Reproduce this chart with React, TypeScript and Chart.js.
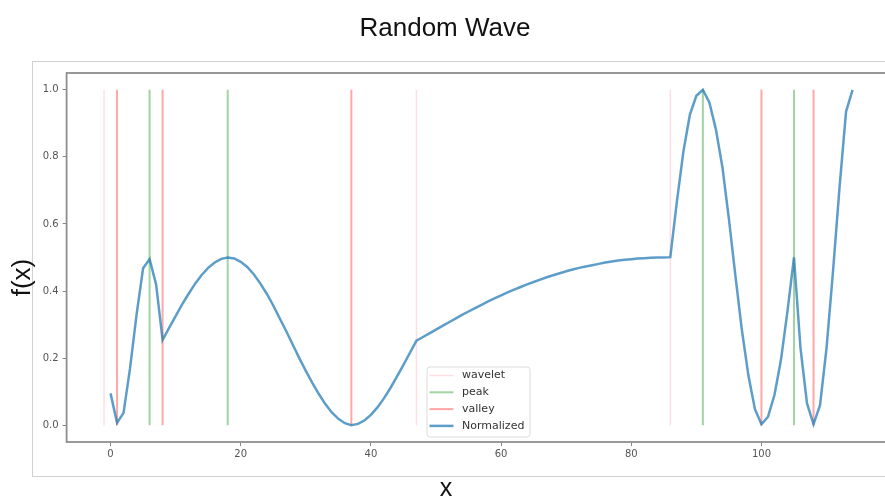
import { useEffect, useRef } from "react";
import { Chart, registerables } from "chart.js";

Chart.register(...registerables);

const TITLE = "Random Wave";
const X_LABEL = "x";
const Y_LABEL = "f(x)";

// Normalized signal, one value per integer x from 0 to 114
const normalized = [
  0.095, 0.007, 0.037, 0.17, 0.33, 0.468, 0.495, 0.42, 0.254, 0.29,
  0.325, 0.36, 0.392, 0.422, 0.448, 0.469, 0.485, 0.496, 0.5, 0.497,
  0.487, 0.472, 0.45, 0.423, 0.392, 0.357, 0.318, 0.28, 0.24, 0.2,
  0.162, 0.126, 0.093, 0.063, 0.038, 0.019, 0.006, 0.0, 0.004, 0.014,
  0.031, 0.053, 0.08, 0.111, 0.145, 0.18, 0.216, 0.252, 0.263, 0.274,
  0.285, 0.296, 0.307, 0.318, 0.329, 0.339, 0.349, 0.359, 0.369, 0.378,
  0.387, 0.396, 0.404, 0.412, 0.42, 0.427, 0.434, 0.441, 0.447, 0.453,
  0.459, 0.464, 0.469, 0.473, 0.477, 0.481, 0.485, 0.488, 0.491, 0.493,
  0.495, 0.497, 0.498, 0.499, 0.5, 0.5, 0.501, 0.665, 0.815, 0.925,
  0.982, 1.0, 0.962, 0.882, 0.77, 0.615, 0.445, 0.283, 0.148, 0.048,
  0.003, 0.025, 0.09, 0.195, 0.34, 0.5, 0.23, 0.065, 0.003, 0.06,
  0.23, 0.46, 0.71, 0.935, 1.0,
];
const xPositions = normalized.map((_, i) => i);

const waveletX = [-1, 47, 86];
const peakX = [6, 18, 91, 105];
const valleyX = [1, 8, 37, 100, 108];
const markerSpan = [0, 1];

const xTicks = [0, 20, 40, 60, 80, 100];
const yTicks = [0, 0.2, 0.4, 0.6, 0.8, 1.0];
const xRange = [-6.75, 119.75];
const yRange = [-0.05, 1.05];

const legendLabels = ["wavelet", "peak", "valley", "Normalized"];

function verticalLines(xs: number[]) {
  const pts: { x: number; y: number | null }[] = [];
  xs.forEach((x) => {
    pts.push({ x, y: markerSpan[0] }, { x, y: markerSpan[1] }, { x, y: null });
  });
  return pts;
}

const decorPlugin = {
  id: "decor",
  beforeDraw(chart: any) {
    const ctx = chart.ctx;
    ctx.save();
    ctx.fillStyle = "#ffffff";
    ctx.fillRect(0, 0, chart.width, chart.height);
    ctx.strokeStyle = "#d0d0d0";
    ctx.lineWidth = 1;
    ctx.strokeRect(32.5, 61.5, chart.width, 415);
    ctx.restore();
  },
  afterDatasetsDraw(chart: any) {
    const ctx = chart.ctx;
    const a = chart.chartArea;
    ctx.save();
    ctx.strokeStyle = "#8e8e8e";
    ctx.lineWidth = 1.8;
    ctx.strokeRect(a.left, a.top, a.right - a.left, a.bottom - a.top);
    ctx.restore();
  },
  afterDraw(chart: any) {
    const ctx = chart.ctx;
    ctx.save();
    // axis labels
    ctx.fillStyle = "#111";
    ctx.font = '25px "Liberation Sans", Arial, sans-serif';
    ctx.textAlign = "center";
    ctx.textBaseline = "alphabetic";
    ctx.fillText(X_LABEL, 446, 496);
    ctx.save();
    ctx.translate(30, 277.5);
    ctx.rotate(-Math.PI / 2);
    ctx.font = '26px "Liberation Sans", Arial, sans-serif';
    ctx.fillText(Y_LABEL, 0, 0);
    ctx.restore();

    // legend
    const bx = 427, by = 367, bw = 103, bh = 70, r = 3;
    ctx.beginPath();
    ctx.moveTo(bx + r, by);
    ctx.lineTo(bx + bw - r, by);
    ctx.quadraticCurveTo(bx + bw, by, bx + bw, by + r);
    ctx.lineTo(bx + bw, by + bh - r);
    ctx.quadraticCurveTo(bx + bw, by + bh, bx + bw - r, by + bh);
    ctx.lineTo(bx + r, by + bh);
    ctx.quadraticCurveTo(bx, by + bh, bx, by + bh - r);
    ctx.lineTo(bx, by + r);
    ctx.quadraticCurveTo(bx, by, bx + r, by);
    ctx.closePath();
    ctx.fillStyle = "rgba(255,255,255,0.85)";
    ctx.fill();
    ctx.strokeStyle = "#dcdcdc";
    ctx.lineWidth = 1;
    ctx.stroke();

    ctx.font = '11px "DejaVu Sans", sans-serif';
    ctx.textAlign = "left";
    ctx.textBaseline = "middle";
    chart.data.datasets.forEach((ds: any, i: number) => {
      const y = 375.5 + i * 16.8;
      ctx.beginPath();
      ctx.strokeStyle = ds.borderColor;
      ctx.lineWidth = ds.borderWidth;
      ctx.moveTo(429.5, y);
      ctx.lineTo(453.5, y);
      ctx.stroke();
      ctx.fillStyle = "#333";
      ctx.fillText(legendLabels[i], 462, y);
    });
    ctx.restore();
  },
};

export default function App() {
  const canvasRef = useRef<HTMLCanvasElement | null>(null);

  useEffect(() => {
    const canvas = canvasRef.current;
    if (!canvas) return;
    const chart = new Chart(canvas, {
      type: "line",
      data: {
        datasets: [
          {
            label: legendLabels[0],
            data: verticalLines(waveletX),
            borderColor: "rgba(255,182,193,0.45)",
            borderWidth: 1.5,
            pointRadius: 0,
            spanGaps: false,
            order: 1,
          },
          {
            label: legendLabels[1],
            data: verticalLines(peakX),
            borderColor: "rgba(44,160,44,0.45)",
            borderWidth: 2,
            pointRadius: 0,
            spanGaps: false,
            order: 1,
          },
          {
            label: legendLabels[2],
            data: verticalLines(valleyX),
            borderColor: "rgba(255,60,60,0.45)",
            borderWidth: 2,
            pointRadius: 0,
            spanGaps: false,
            order: 1,
          },
          {
            label: legendLabels[3],
            data: xPositions.map((x, i) => ({ x, y: normalized[i] })),
            borderColor: "rgba(31,119,180,0.72)",
            borderWidth: 2.5,
            pointRadius: 0,
            tension: 0,
            order: 0,
          },
        ],
      },
      options: {
        animation: false,
        responsive: false,
        devicePixelRatio: 1,
        layout: { padding: { left: 0, right: 0, top: 0, bottom: 0 } },
        plugins: {
          legend: { display: false },
          tooltip: { enabled: false },
          title: {
            display: true,
            text: TITLE,
            color: "#111",
            font: { family: '"Liberation Sans", Arial, sans-serif', size: 26, weight: "normal" },
            padding: { top: 13.4, bottom: 28.4 },
          },
        },
        scales: {
          x: {
            type: "linear",
            min: xRange[0],
            max: xRange[1],
            afterBuildTicks: (scale: any) => {
              scale.ticks = xTicks.map((value) => ({ value }));
            },
            afterFit: (scale: any) => {
              scale.height = 56;
            },
            grid: { drawOnChartArea: false, drawTicks: true, tickLength: 4, color: "#888" },
            border: { display: false },
            ticks: {
              padding: 2,
              color: "#555",
              font: { family: '"DejaVu Sans", sans-serif', size: 10 },
              callback: (v: any) => String(v),
              maxRotation: 0,
            },
          },
          y: {
            type: "linear",
            min: yRange[0],
            max: yRange[1],
            afterBuildTicks: (scale: any) => {
              scale.ticks = yTicks.map((value) => ({ value }));
            },
            afterFit: (scale: any) => {
              scale.width = 66.6;
            },
            grid: { drawOnChartArea: false, drawTicks: true, tickLength: 4, color: "#888" },
            border: { display: false },
            ticks: {
              padding: 4,
              color: "#555",
              font: { family: '"DejaVu Sans", sans-serif', size: 10 },
              callback: (v: any) => Number(v).toFixed(1),
            },
          },
        },
      },
      plugins: [decorPlugin],
    });
    return () => chart.destroy();
  }, []);

  return (
    <div
      style={{
        position: "absolute",
        left: 0,
        top: 0,
        width: 885,
        height: 498,
        overflow: "hidden",
        background: "#fff",
      }}
    >
      <canvas ref={canvasRef} width={890} height={498} style={{ display: "block" }} />
    </div>
  );
}
